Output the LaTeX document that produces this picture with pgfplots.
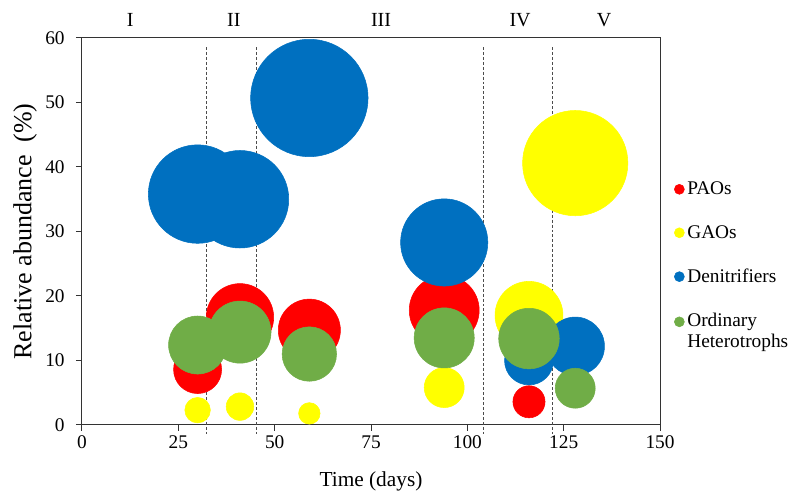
\documentclass[border=0pt]{standalone}
\usepackage{fontspec}
\setmainfont{Liberation Serif}
\usepackage{pgfplots}
\pgfplotsset{compat=1.18}
\definecolor{pao}{RGB}{255,0,0}
\definecolor{gao}{RGB}{255,255,0}
\definecolor{den}{RGB}{0,112,192}
\definecolor{ohe}{RGB}{112,173,71}

% bubble radius grows with sqrt of size column s (area ~ s)
\pgfplotsset{bubble/.style={scatter, only marks, mark=*,
    scatter/use mapped color={draw=#1, fill=#1},
    visualization depends on={6.18*sqrt(\thisrow{s}) \as \bsize},
    scatter/@pre marker code/.append style={/tikz/mark size=\bsize},
    legend image code/.code={\fill[#1] (0pt,0pt) circle (3.75pt);}}}

\pgfplotstableread{
x y s
30 8.6 8.5
41 16.7 16.7
59 14.7 14.2
94 17.8 18.0
116 3.6 3.8
}\paos
\pgfplotstableread{
x y s
30 2.3 2.4
41 2.85 2.8
59 1.8 1.7
94 5.8 5.9
116 17.0 17.0
128 40.6 40.8
}\gaos
\pgfplotstableread{
x y s
30 35.8 35.7
41 35.0 35.0
59 50.7 50.7
94 28.3 28.0
116 10.0 8.8
128 12.2 12.6
}\dens
\pgfplotstableread{
x y s
30 12.4 12.4
41 14.4 14.2
59 11.0 10.9
94 13.5 13.3
116 13.4 13.5
128 5.7 5.9
}\ohes

\begin{document}
\begin{tikzpicture}
\path[use as bounding box] (-61.5pt,-50.25pt) rectangle (530.25pt,318.75pt);
\begin{axis}[
    width=433.5pt, height=290.25pt, scale only axis,
    xmin=0, xmax=150, ymin=0, ymax=60,
    xtick={0,25,...,150}, ytick={0,10,...,60},
    tick align=outside, xtick pos=bottom, ytick pos=left,
    major tick length=4.5pt,
    axis line style={black!80, line width=0.75pt},
    tick style={black!80, line width=0.75pt},
    tick label style={font=\fontsize{14.5}{16}\selectfont},
    yticklabel style={xshift=-5pt},
    /pgf/number format/assume math mode=true,
    xlabel={Time (days)}, ylabel={Relative abundance\ \ (\%)},
    xlabel style={font=\fontsize{16}{18}\selectfont,
      at={(axis description cs:0.5,-0.147)}, anchor=center},
    ylabel style={font=\fontsize{19.5}{21}\selectfont,
      at={(axis description cs:-0.0986,0.5)}, anchor=center},
    clip=false,
    legend style={at={(axis description cs:1.017,0.412)}, anchor=west,
      draw=none, fill=none, row sep=17.5pt,
      font=\fontsize{14.5}{15.5}\selectfont,
      cells={align=left}},
    legend cell align=left,
  ]
  \addplot[bubble=pao] table[x=x, y=y] {\paos};
  \addlegendentry{PAOs}
  \addplot[bubble=gao] table[x=x, y=y] {\gaos};
  \addlegendentry{GAOs}
  \addplot[bubble=den] table[x=x, y=y] {\dens};
  \addlegendentry{Denitrifiers}
  \addplot[bubble=ohe,
    legend image code/.code={\fill[ohe] (0pt,7pt) circle (3.75pt);}] table[x=x, y=y] {\ohes};
  \addlegendentry{Ordinary\\Heterotrophs}

  % phase boundaries
  \addplot[black!70, line width=0.75pt, dash pattern=on 2.2pt off 1.5pt, forget plot] coordinates {(32.4,58.6) (32.4,-1.4)};
  \addplot[black!70, line width=0.75pt, dash pattern=on 2.2pt off 1.5pt, forget plot] coordinates {(45.4,58.6) (45.4,-1.4)};
  \addplot[black!70, line width=0.75pt, dash pattern=on 2.2pt off 1.5pt, forget plot] coordinates {(104.3,58.6) (104.3,-1.4)};
  \addplot[black!70, line width=0.75pt, dash pattern=on 2.2pt off 1.5pt, forget plot] coordinates {(122.0,58.6) (122.0,-1.4)};

  \begin{scope}[font=\fontsize{15}{17}\selectfont]
  \node at (axis cs:12.5,62.8) {I};
  \node at (axis cs:39.4,62.8) {II};
  \node at (axis cs:77.6,62.8) {III};
  \node at (axis cs:113.7,62.8) {IV};
  \node at (axis cs:135.5,62.8) {V};
  \end{scope}
\end{axis}
\end{tikzpicture}
\end{document}
